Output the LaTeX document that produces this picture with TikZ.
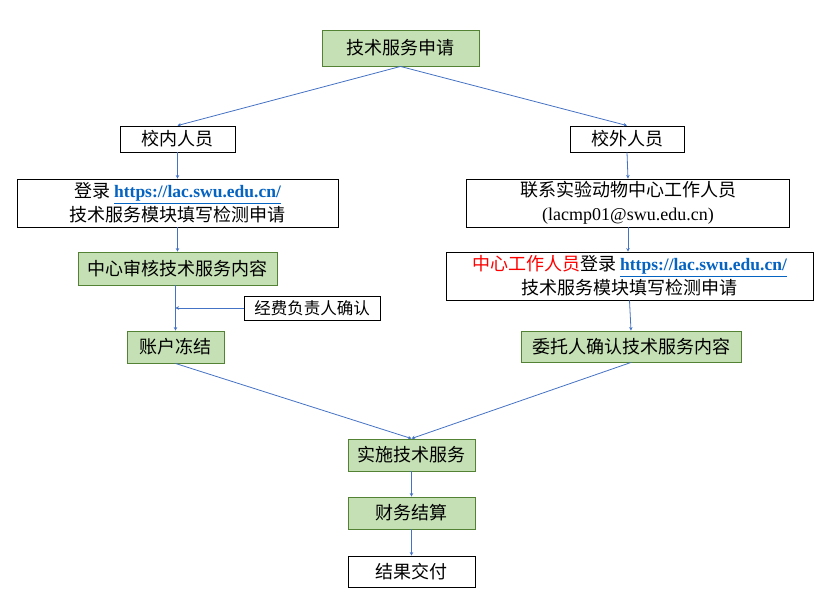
\documentclass[tikz,border=0pt]{standalone}
\usepackage{fontspec}
\setmainfont{Noto Sans CJK SC}
\newfontfamily\urlfont{Liberation Serif}
\usetikzlibrary{arrows.meta}
\definecolor{boxgreen}{HTML}{C5E0B4}
\definecolor{edgegreen}{HTML}{548235}
\definecolor{linkblue}{HTML}{0563C1}
\definecolor{flowblue}{HTML}{4472C4}
\def\weblink#1{{\urlfont\bfseries\fontsize{17.5}{24}\selectfont\color{linkblue}\underline{#1}}}
\tikzset{
	boxtext/.style={inner sep=0pt, align=center, font=\fontsize{18}{24}\selectfont},
	greenbox/.style={boxtext, draw=edgegreen, fill=boxgreen, line width=0.9pt},
	plainbox/.style={boxtext, draw=black, fill=white, line width=0.9pt},
	flow/.style={draw=flowblue, line width=0.8pt, -{Stealth[length=3.5pt,width=3.5pt]}},
}

\begin{document}
\begin{tikzpicture}[x=1pt, y=-1pt]
		%%%%% START %%%%%
		\useasboundingbox (0, 0) rectangle (831, 612);
		
		\node[greenbox, minimum width=157, minimum height=36] (req) at (400.5, 48) {技术服务申请};
		
		\node[plainbox, minimum width=115, minimum height=26] (inner) at (177.5, 139) {校内人员};
		\node[plainbox, minimum width=114, minimum height=26] (outer) at (627, 139) {校外人员};
		
		\node[plainbox, minimum width=321, minimum height=48] (login) at (177.5, 203) {登录 \weblink{https://lac.swu.edu.cn/}\\技术服务模块填写检测申请};
		\node[plainbox, minimum width=323, minimum height=48] (contact) at (628, 203) {联系实验动物中心工作人员\\{\urlfont(lacmp01@swu.edu.cn)}};
		
		\node[greenbox, minimum width=199, minimum height=33] (check) at (177.5, 268.5) {中心审核技术服务内容};
		\node[plainbox, minimum width=136, minimum height=24, font=\fontsize{16.5}{20}\selectfont] (fund) at (312, 308) {经费负责人确认};
		\node[greenbox, minimum width=97, minimum height=32] (freeze) at (175.5, 347) {账户冻结};
		
		\node[plainbox, minimum width=367, minimum height=48] (staff) at (629.5, 276) {\textcolor{red}{中心工作人员}登录 \weblink{https://lac.swu.edu.cn/}\\技术服务模块填写检测申请};
		\node[greenbox, minimum width=220, minimum height=31] (confirm) at (631, 346.5) {委托人确认技术服务内容};
		
		\node[greenbox, minimum width=127, minimum height=32] (serve) at (411.5, 455) {实施技术服务};
		\node[greenbox, minimum width=127, minimum height=32] (settle) at (411.5, 513) {财务结算};
		\node[plainbox, minimum width=127, minimum height=31] (deliver) at (411.5, 571.5) {结果交付};
		
		% connectors
		\draw[flow] (req.south) -- (inner.north);
		\draw[flow] (req.south) -- (outer.north);
		\draw[flow] (inner.south) -- (login.north);
		\draw[flow] (login.south) -- (check.north);
		\draw[flow] (check.south -| freeze.north) -- (freeze.north);
		\draw[flow] (fund.west) -- (fund.west -| freeze.north);
		\draw[flow] (outer.south) -- (contact.north);
		\draw[flow] (contact.south) -- (contact.south |- staff.north);
		\draw[flow] (staff.south) -- (confirm.north);
		\draw[flow] (freeze.south) -- (serve.north);
		\draw[flow] (confirm.south) -- (serve.north);
		\draw[flow] (serve.south) -- (settle.north);
		\draw[flow] (settle.south) -- (deliver.north);
		
		%%%%% END %%%%%
\end{tikzpicture}
\end{document}
